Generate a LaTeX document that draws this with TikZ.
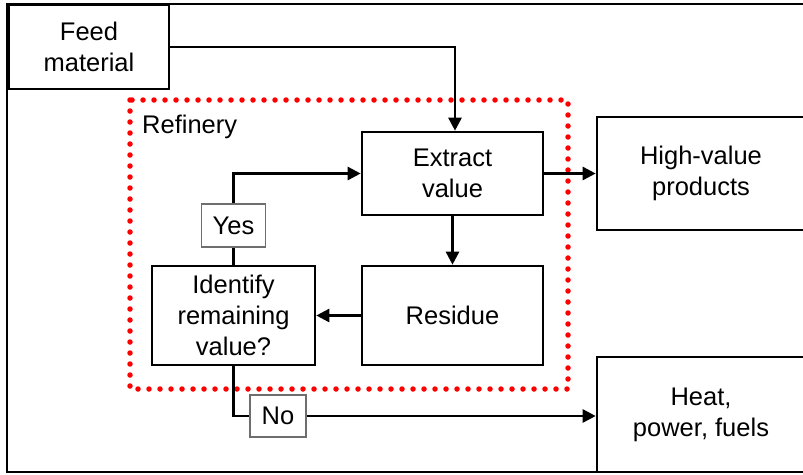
\documentclass[tikz,border=0pt]{standalone}
\usepackage{fontspec}
\setmainfont{Liberation Sans}
\usetikzlibrary{arrows.meta}
\definecolor{refred}{RGB}{255,0,0}
\definecolor{labelgray}{RGB}{110,110,110}
\tikzset{
  blockbox/.style={draw=black, line width=2.6pt, fill=white, align=center, inner sep=0pt,
    font=\fontsize{25.5}{31}\selectfont},
  answerbox/.style={draw=labelgray, line width=1.4pt, fill=white, align=center, inner sep=0pt,
    font=\fontsize{25.5}{31}\selectfont},
  flow/.style={line width=2.6pt, -{Triangle[length=13pt,width=13pt]}},
  plain/.style={line width=2.6pt},
  refinerybox/.style={draw=refred, line width=5.5pt, line cap=round, dash pattern=on 0pt off 11pt}
}
\begin{document}
\begin{tikzpicture}[x=1pt, y=-1pt]
  \useasboundingbox (0,0) rectangle (803,474);
  \clip (0,0) rectangle (803,474);
  \fill[white] (0,0) rectangle (803,474);
  % outer frame
  \draw[line width=2.6pt] (7,4) rectangle (830,472);

  % refinery boundary
  \draw[refinerybox] (130,100) rectangle (568,389);
  \node[anchor=base west, font=\fontsize{25.5}{31}\selectfont, inner sep=0pt] (reflabel) at (142,133) {Refinery};

  % blocks
  \node[blockbox, minimum width=160pt, minimum height=84pt] (feed) at (89,47) {Feed\\material};
  \node[blockbox, minimum width=181pt, minimum height=83pt] (extract) at (452.5,173.5) {Extract\\value};
  \node[blockbox, minimum width=181pt, minimum height=99pt] (residue) at (452.5,315.5) {Residue};
  \node[blockbox, minimum width=163pt, minimum height=99pt] (identify) at (233.5,315.5) {Identify\\remaining\\value?};
  \node[blockbox, minimum width=208pt, minimum height=113pt] (high) at (701,173.5) {High-value\\products};
  \node[blockbox, minimum width=208pt, minimum height=115pt] (heat) at (701,414.5) {Heat,\\power, fuels};

  % decision labels
  \node[answerbox, minimum width=64pt, minimum height=43pt] (yes) at (233.5,225.5) {Yes};
  \node[answerbox, minimum width=56pt, minimum height=42pt] (no) at (278,416) {No};

  % connectors
  \draw[flow] (feed.east) -| ([xshift=2.5pt]extract.north);
  \draw[flow] (extract.east) -- (high.west |- extract.east);
  \draw[flow] (extract.south) -- (residue.north);
  \draw[flow] (residue.west) -- (identify.east);
  \draw[plain] (identify.north) -- (yes.south);
  \draw[flow] (yes.north) |- (extract.west);
  \draw[plain] (identify.south) |- (no.west);
  \draw[flow] (no.east) -- (heat.west |- no.east);
\end{tikzpicture}
\end{document}
